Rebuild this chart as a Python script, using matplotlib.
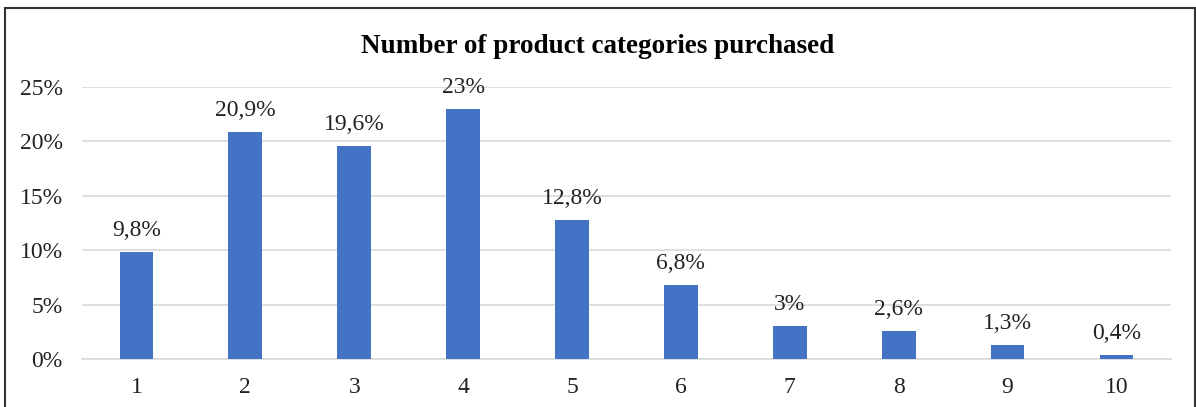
import matplotlib.pyplot as plt
from matplotlib.patches import Rectangle
from matplotlib.ticker import FuncFormatter

categories = ['1', '2', '3', '4', '5', '6', '7', '8', '9', '10']
shares = [9.8, 20.9, 19.6, 23, 12.8, 6.8, 3, 2.6, 1.3, 0.4]
labels = ['9,8%', '20,9%', '19,6%', '23%', '12,8%', '6,8%', '3%', '2,6%', '1,3%', '0,4%']

plt.rcParams['font.family'] = ['Liberation Serif', 'DejaVu Serif']

fig = plt.figure(figsize=(11.96, 4.07), dpi=100)
ax = fig.add_axes([0.0686, 0.118, 0.9104, 0.668])

x = range(len(categories))
ax.bar(x, shares, width=0.31, color='#4472C4', zorder=3)
for xi, v, lab in zip(x, shares, labels):
    ax.annotate(lab, (xi, v), xytext=(0, 8), textcoords='offset points',
                ha='center', va='bottom', fontsize=17, color='#222222')

ax.set_xlim(-0.5, len(categories) - 0.5)
ax.set_ylim(0, 25)
ax.set_yticks([0, 5, 10, 15, 20, 25])
ax.yaxis.set_major_formatter(FuncFormatter(lambda v, p: '%d%%' % v))
ax.set_xticks(list(x))
ax.set_xticklabels(categories)
ax.tick_params(axis='both', length=0, labelsize=17, colors='#222222')
ax.tick_params(axis='x', pad=13)
ax.tick_params(axis='y', pad=14)
ax.grid(axis='y', color='#D9D9D9', lw=1.2, zorder=0)
for s in ['top', 'right', 'left']:
    ax.spines[s].set_visible(False)
ax.spines['bottom'].set_color('#D9D9D9')
ax.spines['bottom'].set_linewidth(1.2)

fig.text(0.5, 0.885, 'Number of product categories purchased', ha='center', va='center',
         fontsize=19.5, fontweight='bold', color='black')

fig.patches.append(Rectangle((5 / 1196, -0.05), 1190 / 1196, 1 - 8 / 407 + 0.05,
                             transform=fig.transFigure, fill=False,
                             edgecolor='#333333', lw=1.5))

fig.savefig('out.png', dpi=100)
